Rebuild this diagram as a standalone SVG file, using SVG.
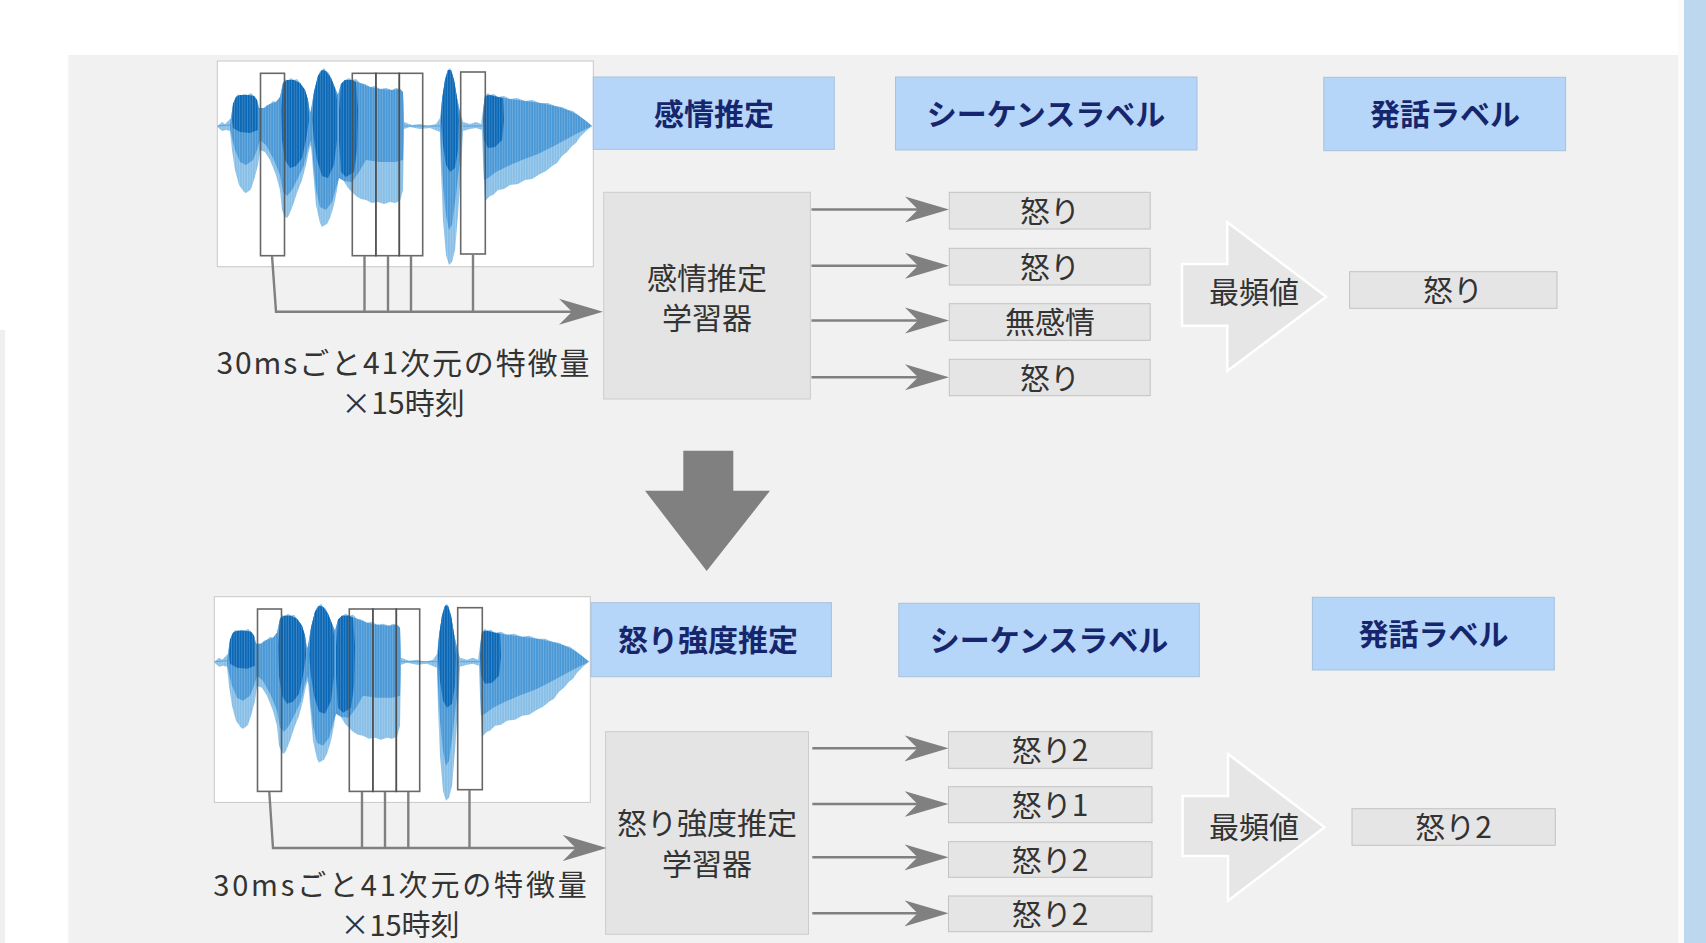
<svg xmlns="http://www.w3.org/2000/svg" xmlns:xlink="http://www.w3.org/1999/xlink" width="1706" height="943" viewBox="0 0 1706 943">
<style>
.hdr{fill:#b5d5f9;stroke:#a7c1dc;stroke-width:1}
.ht{font-family:'Noto Sans CJK JP',sans-serif;font-size:30px;font-weight:700;fill:#17266c;text-anchor:middle}
.t{font-family:'Noto Sans CJK JP',sans-serif;font-size:30px;fill:#333333;text-anchor:middle}
.cap2{font-size:29px}
.box{fill:#e5e5e5;stroke:#c2c2c2;stroke-width:1}
.lrn{fill:#e4e4e4;stroke:#cccccc;stroke-width:1}
.conn{fill:none;stroke:#808080;stroke-width:2.4}
.win{fill:none;stroke:#4d4d4d;stroke-width:1.6;stroke-opacity:0.85}
.mode{fill:#e6e6e6;stroke:#ffffff;stroke-width:2.5;stroke-linejoin:miter}
</style>
<defs>
<marker id="ah" markerUnits="userSpaceOnUse" viewBox="-44 -14 44 28" refX="-8" refY="0" markerWidth="44" markerHeight="28" orient="auto">
<path d="M0,0 L-44,-13 L-31,0 L-44,13 Z" fill="#808080"/>
</marker>
<pattern id="stripes" patternUnits="userSpaceOnUse" width="2.6" height="10">
<rect x="0" y="0" width="0.8" height="10" fill="#ffffff" fill-opacity="0.22"/>
</pattern>
<path id="envOuter" d="M217.5,126 L222,122 L225,124 L228,121 L231,118 L233,104 L236,97 L238,94 L240,96 L244,94 L248,95 L251,93 L254,96 L257,100 L259,108 L264,108 L267,105 L270,104 L273,101 L276,102 L280,97 L283,83 L285,79 L287,81 L291,78 L294,80 L297,79 L300,83 L305,90 L308,100 L310,113 L311,110 L314,92 L318,76 L320,71 L322,70 L324,68 L326,71 L329,73 L331,78 L335,88 L338,95 L341,84 L345,80 L349,78 L352,80 L356,79 L360,83 L365,84 L370,87 L375,86 L380,89 L386,88 L392,90 L396,88 L400,89 L403,92 L404,122 L412,125 L420,124 L428,126 L436,124 L440,118 L442,100 L445,80 L447,72 L448,70 L450,68 L451,70 L454,80 L457,98 L460,112 L463,122 L470,124 L476,122 L481,124 L483,110 L485,96 L488,93 L490,95 L494,94 L498,97 L504,96 L510,99 L517,98 L525,101 L532,100 L540,103 L548,103 L555,106 L562,107 L568,110 L573,111 L578,115 L586,121 L592,126 L586,131 L580,137 L576,143 L572,146 L567,152 L562,156 L557,163 L552,166 L546,171 L540,174 L532,179 L525,180 L518,184 L510,185 L504,189 L498,190 L493,195 L490,196 L485,201 L483,160 L482,130 L476,128 L470,129 L463,131 L461,170 L458,215 L455,250 L452,262 L449,265 L446,255 L443,220 L441,170 L440,132 L430,128 L420,129 L410,127 L404,129 L403,190 L400,201 L395,203 L390,202 L384,204 L378,202 L372,203 L366,200 L361,199 L356,196 L348,188 L342,178 L339,175 L337,190 L334,205 L330,218 L327,224 L325,225 L322,227 L320,223 L316,205 L313,170 L311,145 L309,150 L306,165 L302,180 L298,190 L293,205 L289,215 L287,218 L285,217 L282,210 L280,190 L276,175 L270,160 L265,152 L260,150 L258,165 L254,180 L251,189 L249,191 L246,193 L244,192 L239,185 L235,170 L232,150 L230,131 L226,130 L222,131 L217.5,127 Z"/>
<g id="wf">
<use xlink:href="#envOuter" fill="#88bfe7"/>
<path fill="#4a98d6" d="M230,125 L233,104 L236,97 L240,95 L248,95 L254,96 L257,100 L259,108 L264,108 L270,104 L276,102 L280,97 L283,83 L287,80 L294,80 L300,83 L305,90 L308,100 L310,113 L311,110 L314,92 L318,76 L322,70 L326,71 L331,78 L335,88 L338,95 L341,84 L345,80 L352,80 L360,83 L370,87 L380,89 L392,90 L400,89 L403,92 L404,125 L403,160 L395,162 L380,162 L366,160 L359,172 L352,182 L344,181 L339,178 L336,188 L332,202 L326,210 L320,207 L316,190 L313,160 L311,140 L308,148 L304,165 L298,178 L292,190 L287,196 L283,192 L280,175 L274,160 L266,145 L260,140 L257,150 L253,160 L246,165 L240,162 L235,150 L232,138 L230,128 Z M440,126 L442,100 L445,80 L448,70 L451,70 L454,80 L457,98 L460,112 L462,126 L460,160 L456,195 L452,225 L449,230 L446,215 L443,185 L441,150 Z M483,126 L483,110 L485,96 L490,95 L498,97 L510,99 L525,101 L540,103 L555,106 L568,110 L578,115 L586,121 L592,126 L586,129 L576,134 L565,140 L552,147 L538,154 L522,160 L508,166 L496,172 L488,178 L484,180 Z"/>
<path fill="#0a68b6" d="M232,120 L233,104 L236,97 L240,95 L248,95 L254,96 L257,100 L258,108 L258,130 L250,133 L240,132 L233,128 Z M281,110 L283,83 L287,80 L294,80 L300,83 L305,90 L308,100 L309,120 L306,140 L302,158 L296,166 L290,168 L285,160 L282,140 Z M312,120 L314,92 L318,76 L322,70 L326,71 L331,78 L335,88 L337,100 L337,140 L334,165 L328,178 L322,176 L317,160 L314,140 Z M339,110 L341,84 L345,80 L352,80 L356,82 L358,110 L357,150 L354,172 L346,177 L341,172 L339,140 Z M441,120 L442,100 L445,80 L448,70 L451,70 L454,80 L457,98 L459,120 L458,150 L455,168 L450,172 L446,165 L443,145 Z M483,120 L485,96 L490,95 L498,97 L503,98 L504,120 L502,140 L495,147 L488,148 L484,140 Z"/>
<use xlink:href="#envOuter" fill="url(#stripes)"/>
<path d="M217.5,126 L230,125 M404,126 L440,126 M463,126 L483,126" stroke="#5aa2da" stroke-width="1" fill="none"/>
</g>
<g id="wavebox">
<rect x="217.3" y="61" width="376" height="205.7" fill="#ffffff" stroke="#c9c9c9" stroke-width="1"/>
<use xlink:href="#wf"/>
<rect class="win" x="260.5" y="73.3" width="24" height="182.4"/>
<rect class="win" x="352.3" y="73.3" width="23.6" height="182.4"/>
<rect class="win" x="375.9" y="73.3" width="23.4" height="182.4"/>
<rect class="win" x="399.3" y="73.3" width="23.4" height="182.4"/>
<rect class="win" x="460.7" y="72" width="24.6" height="182"/>
</g>
</defs>

<!-- page background -->
<rect x="0" y="0" width="1706" height="943" fill="#ffffff"/>
<rect x="0" y="330" width="5" height="613" fill="#efefef"/>
<rect x="68.3" y="55" width="1609.7" height="888" fill="#f1f1f1"/>
<rect x="1678" y="0" width="6" height="943" fill="#fbfbfb"/>
<rect x="1684" y="0" width="22" height="943" fill="#bdd7ee"/>

<!-- top section -->
<g id="wave-top"><use xlink:href="#wavebox"/></g>
<g id="caption-top">
<text class="t" x="403" y="373.5" textLength="373" lengthAdjust="spacing">30msごと41次元の特徴量</text>
<text class="t" x="403" y="413.5">×15時刻</text>
</g>
<g id="hdr-emotion"><rect class="hdr" x="593.3" y="77" width="241" height="72.3"/><text class="ht" x="714" y="125">感情推定</text></g>
<g id="hdr-seq-top"><rect class="hdr" x="895.5" y="77" width="301.5" height="73"/><text class="ht" x="1046" y="125">シーケンスラベル</text></g>
<g id="hdr-utt-top"><rect class="hdr" x="1323.8" y="77.3" width="241.8" height="73.4"/><text class="ht" x="1445" y="125">発話ラベル</text></g>
<g id="learner-top"><rect class="lrn" x="603.7" y="192.3" width="206.7" height="206.7"/><text class="t" x="707" y="288.5">感情推定</text><text class="t" x="707" y="329.3">学習器</text></g>
<g id="out-top-1"><rect class="box" x="949.3" y="192.3" width="200.9" height="36.7"/><text class="t" x="1050" y="221.7">怒り</text></g>
<g id="out-top-2"><rect class="box" x="949.3" y="248.3" width="200.9" height="36.7"/><text class="t" x="1050" y="277.7">怒り</text></g>
<g id="out-top-3"><rect class="box" x="949.3" y="303.7" width="200.9" height="36.6"/><text class="t" x="1050" y="333">無感情</text></g>
<g id="out-top-4"><rect class="box" x="949.3" y="359.3" width="200.9" height="36.4"/><text class="t" x="1050" y="388.5">怒り</text></g>
<g id="mode-top"><polygon class="mode" points="1182,264 1227.3,264 1227.3,222.3 1326.2,296.7 1227.3,371 1227.3,325.7 1182,325.7"/><text class="t" x="1254" y="302.7">最頻値</text></g>
<g id="result-top"><rect class="box" x="1349.6" y="271.7" width="207.4" height="36.6"/><text class="t" x="1453" y="301">怒り</text></g>

<!-- transition arrow -->
<g id="down-arrow"><polygon points="683.3,450.7 733.3,450.7 733.3,490.7 770,490.7 706.7,571 645,490.7 683.3,490.7" fill="#808080"/></g>

<!-- bottom section -->
<g id="wave-bottom" transform="translate(-3,535.7)"><use xlink:href="#wavebox"/></g>
<g id="caption-bottom">
<text class="t cap2" x="400" y="896" textLength="373.5" lengthAdjust="spacing">30msごと41次元の特徴量</text>
<text class="t cap2" x="400" y="935.5">×15時刻</text>
</g>
<g id="hdr-anger"><rect class="hdr" x="591" y="602.7" width="240.4" height="74"/><text class="ht" x="708" y="651">怒り強度推定</text></g>
<g id="hdr-seq-bottom"><rect class="hdr" x="898.8" y="603.3" width="300.5" height="73.4"/><text class="ht" x="1049" y="651">シーケンスラベル</text></g>
<g id="hdr-utt-bottom"><rect class="hdr" x="1312.4" y="597.3" width="241.9" height="72.7"/><text class="ht" x="1433.4" y="644.7">発話ラベル</text></g>
<g id="learner-bottom"><rect class="lrn" x="605.6" y="731.7" width="202.9" height="202.6"/><text class="t" x="707" y="834.3">怒り強度推定</text><text class="t" x="707" y="875">学習器</text></g>
<g id="out-bottom-1"><rect class="box" x="948.5" y="731.7" width="203.5" height="36.6"/><text class="t" x="1050" y="761">怒り2</text></g>
<g id="out-bottom-2"><rect class="box" x="948.5" y="786.7" width="203.5" height="36"/><text class="t" x="1050" y="815.7">怒り1</text></g>
<g id="out-bottom-3"><rect class="box" x="948.5" y="841.7" width="203.5" height="35.6"/><text class="t" x="1050" y="870.5">怒り2</text></g>
<g id="out-bottom-4"><rect class="box" x="948.5" y="896" width="203.5" height="35.7"/><text class="t" x="1050" y="924.9">怒り2</text></g>
<g id="mode-bottom"><polygon class="mode" points="1182.6,796 1228,796 1228,754 1324.5,827.3 1228,900.7 1228,856 1182.6,856"/><text class="t" x="1254" y="837.7">最頻値</text></g>
<g id="result-bottom"><rect class="box" x="1352" y="808.7" width="203.3" height="36.6"/><text class="t" x="1453.7" y="838">怒り2</text></g>

<!-- connectors -->
<g id="connectors">
<path class="conn" d="M272,255.7 L276,311.7 L595,311.7" marker-end="url(#ah)"/>
<path class="conn" d="M364.5,255.7 V311.7 M388,255.7 V311.7 M411,255.7 V311.7 M473,254 V311.7"/>
<path class="conn" d="M811.5,209.5 H941" marker-end="url(#ah)"/>
<path class="conn" d="M811.5,265.7 H941" marker-end="url(#ah)"/>
<path class="conn" d="M811.5,320.5 H941" marker-end="url(#ah)"/>
<path class="conn" d="M811.5,377.3 H941" marker-end="url(#ah)"/>
<path class="conn" d="M269.3,792 L273,848 L598.7,848" marker-end="url(#ah)"/>
<path class="conn" d="M362,792 V848 M385,792 V848 M408.3,792 V848 M469.5,790 V848"/>
<path class="conn" d="M812.3,748.3 H940.5" marker-end="url(#ah)"/>
<path class="conn" d="M812.3,804 H940.5" marker-end="url(#ah)"/>
<path class="conn" d="M812.3,857.3 H940.5" marker-end="url(#ah)"/>
<path class="conn" d="M812.3,913.3 H940.5" marker-end="url(#ah)"/>
</g>
</svg>
